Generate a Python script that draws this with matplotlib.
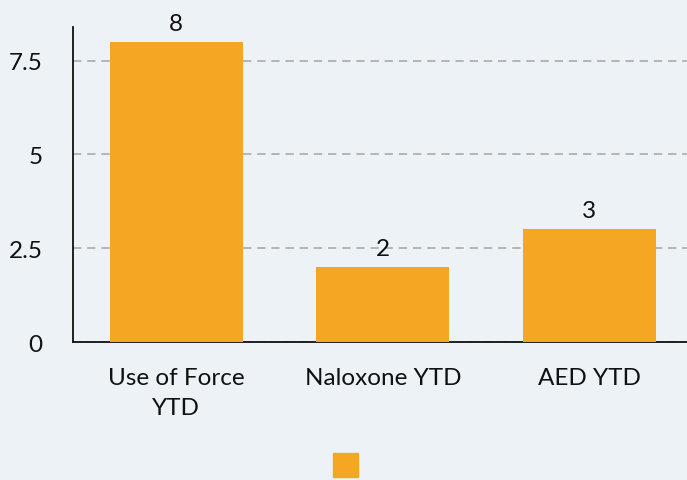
import matplotlib.pyplot as plt
from matplotlib.patches import Patch

categories = ['Use of Force\nYTD', 'Naloxone YTD', 'AED YTD']
values = [8, 2, 3]
yticks = [0, 2.5, 5, 7.5]
ytick_labels = ['0', '2.5', '5', '7.5']

bg = '#edf2f7'
bar_color = '#f5a623'

plt.rcParams['font.family'] = ['Lato', 'DejaVu Sans']

fig = plt.figure(figsize=(6.87, 4.81), dpi=100)
fig.patch.set_facecolor(bg)
ax = fig.add_axes([0.1063, 0.2869, 0.9017, 0.6549])
ax.set_facecolor('none')

x = range(len(categories))
bars = ax.bar(x, values, width=0.644, color=bar_color, zorder=3)
ax.bar_label(bars, labels=[str(v) for v in values], padding=6, fontsize=17.5, color='#111111')

ax.set_xlim(-0.5, 2.5)
ax.set_ylim(0, 8.4)
ax.set_yticks(yticks)
ax.set_yticklabels(ytick_labels, fontsize=17.5, color='#111111')
ax.set_xticks(list(x))
ax.set_xticklabels(categories, fontsize=17.5, color='#111111', linespacing=1.5)
ax.tick_params(axis='y', length=0, pad=22)
ax.tick_params(axis='x', length=0, pad=18)

ax.yaxis.grid(True, color='#aaaaaa', linestyle=(0, (5, 3.5)), linewidth=1.2, zorder=0)
for s in ['top', 'right']:
    ax.spines[s].set_visible(False)
ax.spines['left'].set_color('#111111')
ax.spines['bottom'].set_color('#111111')
ax.spines['left'].set_linewidth(1.3)
ax.spines['bottom'].set_linewidth(1.3)

fig.legend(handles=[Patch(facecolor=bar_color, edgecolor=bar_color, label='')],
           loc='center', bbox_to_anchor=(345.5 / 687, 1 - 466 / 481),
           frameon=False, handlelength=1.4, handleheight=1.75, handletextpad=0,
           borderpad=0, fontsize=13)

fig.savefig('out.png', dpi=100, facecolor=bg)
